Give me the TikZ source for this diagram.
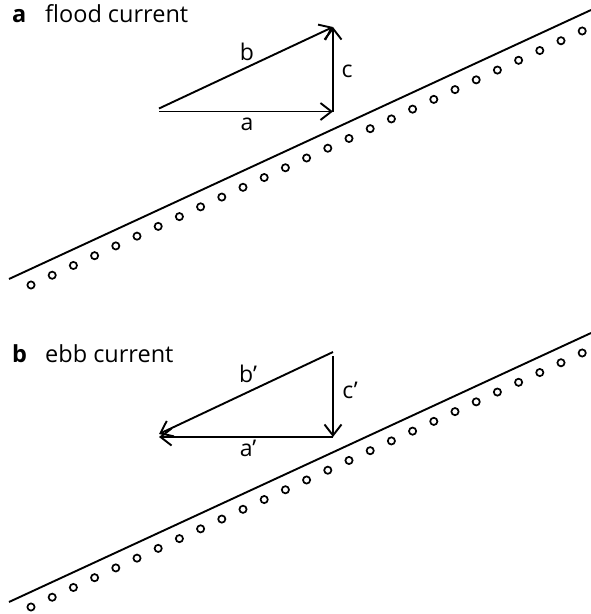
\documentclass[tikz,border=0pt]{standalone}
\usepackage{fontspec}
\setmainfont{Open Sans}
\usetikzlibrary{arrows.meta}
\tikzset{
  vec/.style={line width=1.9pt, -{Straight Barb[length=11pt,width=17pt,line width=1.9pt]}},
  shore/.style={line width=1.9pt},
  pore/.style={line width=1.7pt},
  lbl/.style={anchor=base, inner sep=0pt, font=\fontsize{23}{27}\selectfont},
  ttl/.style={anchor=base west, inner sep=0pt, font=\fontsize{23.5}{28}\selectfont}
}
\begin{document}
\begin{tikzpicture}[x=1pt,y=-1pt]
\useasboundingbox (0,0) rectangle (591,614);
% ---- panel a ----
\node[ttl] (ta) at (12,22) {\textbf{a}};
\node[ttl] (tat) at (45,22) {flood current};
\coordinate (a0) at (159,111.5);
\coordinate (a1) at (333,111.5);
\coordinate (b0) at (159,108.5);
\coordinate (c1) at (333,27);
\draw[vec] (a0) -- (a1);
\draw[vec] (a1) -- (c1);
\draw[vec] (b0) -- (c1);
\node[lbl] (la) at (247,130) {a};
\node[lbl] (lb) at (247,60) {b};
\node[lbl] (lc) at (347,77) {c};
\coordinate (s0) at (9,279);
\coordinate (s1) at (591,10);
\draw[shore] (s0) -- (s1);
\foreach \i in {0,...,26} {
  \draw[pore] (31+21.2*\i, 285-9.77*\i) circle (3.6);
}
% ---- panel b ----
\node[ttl] (tb) at (12,362) {\textbf{b}};
\node[ttl] (tbt) at (45,362) {ebb current};
\coordinate (p0) at (333,352);
\coordinate (p1) at (159,434);
\coordinate (q0) at (333,356);
\coordinate (q1) at (333,437);
\coordinate (r1) at (159,437);
\draw[vec] (p0) -- (p1);
\draw[vec] (q0) -- (q1);
\draw[vec] (q1) -- (r1);
\node[lbl] (lbp) at (248,382) {b’};
\node[lbl] (lcp) at (350,398) {c’};
\node[lbl] (lap) at (248,456) {a’};
\coordinate (u0) at (9,602);
\coordinate (u1) at (591,333);
\draw[shore] (u0) -- (u1);
\foreach \i in {0,...,26} {
  \draw[pore] (31+21.2*\i, 607-9.77*\i) circle (3.6);
}
\end{tikzpicture}
\end{document}
